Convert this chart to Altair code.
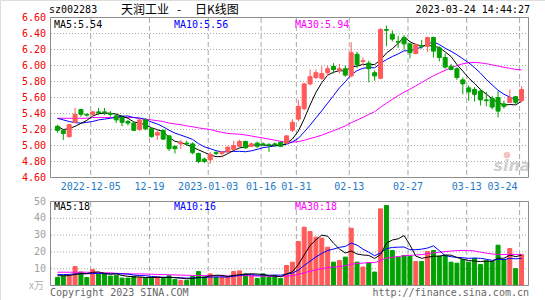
import altair as alt
import pandas as pd

# ---------------- data ----------------
idx = list(range(80))  # trading days 2022-11-25 .. 2023-03-24

opens = [5.24, 5.19, 5.11, 5.29, 5.45, 5.39, 5.39, 5.42, 5.42, 5.40,
         5.37, 5.35, 5.30, 5.28, 5.20, 5.32, 5.21, 5.13, 5.19, 5.12,
         4.99, 5.02, 5.03, 5.02, 4.90, 4.83, 4.82, 4.91, 4.90, 4.92,
         4.95, 4.99, 5.05, 4.99, 5.03, 5.02, 5.01, 5.02, 5.04, 5.03,
         5.19, 5.33, 5.46, 5.77, 5.85, 5.84, 5.91, 5.99, 5.94, 5.96,
         5.87, 6.14, 6.05, 6.03, 5.91, 5.84, 6.45, 6.39, 6.30, 6.35,
         6.27, 6.15, 6.25, 6.24, 6.35, 6.22, 6.10, 5.99, 5.96, 5.82,
         5.72, 5.70, 5.68, 5.57, 5.59, 5.60, 5.52, 5.54, 5.61, 5.56]
closes = [5.19, 5.15, 5.26, 5.39, 5.39, 5.38, 5.42, 5.41, 5.41, 5.39,
          5.32, 5.29, 5.28, 5.19, 5.32, 5.21, 5.11, 5.16, 5.08, 4.96,
          4.96, 5.04, 5.02, 4.91, 4.80, 4.80, 4.89, 4.90, 4.92, 4.98,
          5.00, 5.05, 4.97, 5.02, 4.99, 5.01, 5.00, 5.01, 4.99, 5.12,
          5.29, 5.49, 5.77, 5.86, 5.91, 5.90, 5.96, 5.95, 5.96, 5.88,
          6.16, 6.01, 6.06, 5.96, 5.87, 6.45, 6.44, 6.33, 6.29, 6.27,
          6.16, 6.26, 6.24, 6.35, 6.18, 6.10, 5.98, 5.95, 5.85, 5.77,
          5.67, 5.64, 5.57, 5.56, 5.48, 5.43, 5.49, 5.60, 5.54, 5.70]
highs = [5.26, 5.19, 5.27, 5.47, 5.46, 5.40, 5.43, 5.47, 5.47, 5.43,
         5.40, 5.36, 5.32, 5.29, 5.34, 5.34, 5.22, 5.20, 5.20, 5.13,
         5.00, 5.07, 5.06, 5.04, 4.91, 4.85, 4.92, 4.94, 4.93, 4.99,
         5.06, 5.07, 5.06, 5.04, 5.05, 5.04, 5.03, 5.04, 5.05, 5.13,
         5.33, 5.57, 5.78, 5.95, 5.95, 5.99, 6.00, 6.03, 6.02, 6.00,
         6.29, 6.17, 6.10, 6.06, 5.94, 6.47, 6.50, 6.44, 6.37, 6.38,
         6.28, 6.28, 6.32, 6.36, 6.36, 6.24, 6.15, 6.02, 5.98, 5.85,
         5.75, 5.73, 5.71, 5.67, 5.62, 5.68, 5.56, 5.70, 5.62, 5.74]
lows = [5.16, 5.07, 5.10, 5.28, 5.36, 5.36, 5.38, 5.38, 5.38, 5.36,
        5.28, 5.24, 5.25, 5.18, 5.18, 5.19, 5.10, 5.07, 5.07, 4.93,
        4.90, 4.96, 5.00, 4.89, 4.78, 4.78, 4.77, 4.88, 4.85, 4.90,
        4.94, 4.98, 4.96, 4.98, 4.97, 4.99, 4.92, 4.98, 4.98, 5.02,
        5.17, 5.30, 5.44, 5.75, 5.83, 5.82, 5.87, 5.90, 5.90, 5.86,
        5.85, 5.97, 6.00, 5.79, 5.81, 5.83, 6.24, 6.30, 6.22, 6.20,
        6.09, 6.14, 6.21, 6.17, 6.10, 6.05, 5.96, 5.94, 5.82, 5.64,
        5.56, 5.55, 5.50, 5.49, 5.45, 5.35, 5.46, 5.53, 5.52, 5.54]
vols = [4.8, 5.6, 5.6, 11.3, 8.0, 4.8, 9.5, 6.9, 6.9, 5.6,
        6.0, 4.4, 4.4, 5.4, 5.0, 4.4, 4.6, 5.0, 4.4, 5.8,
        3.6, 3.0, 3.0, 5.4, 8.3, 5.0, 6.9, 5.0, 5.0, 5.0,
        8.3, 8.7, 6.9, 6.0, 4.2, 6.9, 5.0, 6.0, 4.2, 11.9,
        13.9, 26.2, 34.7, 32.1, 28.8, 28.2, 22.8, 13.9, 14.9, 16.9,
        34.1, 13.9, 11.0, 13.5, 8.0, 45.6, 47.6, 20.8, 16.9, 17.9,
        17.5, 14.3, 14.3, 20.2, 20.8, 17.5, 17.9, 13.9, 13.3, 15.5,
        13.9, 16.1, 12.5, 14.7, 14.3, 24.0, 15.5, 22.0, 10.0, 18.5]

ma5 = [5.24, 5.20, 5.21, 5.24, 5.276, 5.314, 5.368, 5.398, 5.404, 5.404,
       5.392, 5.366, 5.340, 5.294, 5.280, 5.258, 5.222, 5.198, 5.174, 5.102,
       5.052, 5.038, 5.010, 4.978, 4.946, 4.914, 4.884, 4.860, 4.862, 4.898,
       4.938, 4.970, 4.984, 5.004, 5.006, 5.008, 4.998, 5.006, 5.000, 5.026,
       5.082, 5.180, 5.332, 5.506, 5.664, 5.786, 5.880, 5.916, 5.936, 5.930,
       5.982, 5.992, 6.014, 6.014, 6.012, 6.070, 6.156, 6.210, 6.276, 6.356,
       6.298, 6.262, 6.244, 6.256, 6.238, 6.226, 6.170, 6.112, 6.012, 5.930,
       5.844, 5.776, 5.700, 5.642, 5.584, 5.536, 5.506, 5.512, 5.508, 5.552]
ma10 = [5.34, 5.32, 5.30, 5.285, 5.28, 5.29, 5.30, 5.32, 5.33, 5.340,
        5.353, 5.367, 5.369, 5.349, 5.342, 5.325, 5.294, 5.269, 5.234, 5.191,
        5.155, 5.130, 5.104, 5.076, 5.024, 4.983, 4.961, 4.935, 4.920, 4.922,
        4.926, 4.927, 4.922, 4.933, 4.952, 4.973, 4.984, 4.995, 5.002, 5.016,
        5.045, 5.089, 5.169, 5.253, 5.345, 5.434, 5.530, 5.624, 5.721, 5.797,
        5.884, 5.936, 5.965, 5.975, 5.971, 6.026, 6.074, 6.112, 6.145, 6.184,
        6.184, 6.209, 6.227, 6.266, 6.297, 6.262, 6.216, 6.178, 6.134, 6.084,
        6.035, 5.973, 5.906, 5.827, 5.757, 5.690, 5.641, 5.606, 5.575, 5.568]
ma30 = [5.34, 5.34, 5.34, 5.34, 5.34, 5.34, 5.35, 5.35, 5.35, 5.35,
        5.35, 5.35, 5.35, 5.35, 5.34, 5.33, 5.32, 5.31, 5.30, 5.28,
        5.27, 5.26, 5.245, 5.235, 5.22, 5.21, 5.20, 5.18, 5.165, 5.151,
        5.145, 5.141, 5.132, 5.119, 5.106, 5.094, 5.080, 5.066, 5.052, 5.043,
        5.042, 5.049, 5.065, 5.087, 5.107, 5.130, 5.158, 5.185, 5.214, 5.245,
        5.285, 5.317, 5.352, 5.387, 5.423, 5.478, 5.529, 5.577, 5.623, 5.666,
        5.704, 5.745, 5.787, 5.831, 5.871, 5.907, 5.940, 5.971, 6.000, 6.022,
        6.034, 6.039, 6.033, 6.023, 6.008, 5.993, 5.977, 5.965, 5.951, 5.945]

vma5 = [5.8, 5.8, 5.9, 6.6, 7.06, 7.06, 7.84, 8.10, 7.22, 6.74,
        6.98, 5.96, 5.46, 5.16, 5.04, 4.72, 4.76, 4.88, 4.68, 4.84,
        4.68, 4.36, 3.96, 4.16, 4.66, 4.94, 5.72, 6.12, 6.04, 5.38,
        6.04, 6.40, 6.78, 6.98, 6.82, 6.54, 5.80, 5.62, 5.26, 6.80,
        8.20, 12.44, 18.18, 23.76, 27.14, 30.00, 29.32, 25.16, 21.72, 19.34,
        20.52, 18.74, 18.16, 17.88, 16.10, 18.40, 25.14, 27.10, 27.78, 29.76,
        24.14, 17.48, 16.18, 16.84, 17.42, 17.42, 18.14, 18.06, 16.68, 15.62,
        14.90, 14.54, 14.26, 14.54, 14.30, 16.32, 16.20, 18.10, 17.16, 18.00]
vma10 = [6.5, 6.5, 6.6, 6.8, 7.0, 7.0, 7.1, 7.2, 7.0, 6.90,
         7.02, 6.90, 6.78, 6.19, 5.89, 5.85, 5.36, 5.17, 4.92, 4.94,
         4.70, 4.56, 4.42, 4.42, 4.75, 4.81, 5.04, 5.04, 5.10, 5.02,
         5.49, 6.06, 6.45, 6.51, 6.10, 6.29, 6.10, 6.20, 6.12, 6.81,
         7.37, 9.12, 11.90, 14.51, 16.97, 19.10, 20.88, 21.67, 22.74, 23.24,
         25.26, 24.03, 21.66, 19.80, 17.72, 19.46, 21.94, 22.63, 22.83, 22.93,
         21.27, 21.31, 21.64, 22.31, 23.59, 20.78, 17.81, 17.12, 16.76, 16.52,
         16.16, 16.34, 16.16, 15.61, 14.96, 15.61, 15.37, 16.18, 15.85, 16.15]
vma30 = [7.9, 7.9, 7.9, 7.9, 7.9, 7.9, 7.8, 7.7, 7.6, 7.5,
         7.3, 7.1, 7.0, 6.9, 6.9, 6.8, 6.7, 6.6, 6.5, 6.4,
         6.3, 6.2, 6.1, 6.0, 6.0, 5.9, 5.9, 5.8, 5.7, 5.62,
         5.74, 5.84, 5.88, 5.71, 5.58, 5.65, 5.50, 5.47, 5.38, 5.59,
         5.85, 6.58, 7.59, 8.48, 9.27, 10.07, 10.67, 10.97, 11.32, 11.69,
         12.71, 13.07, 13.34, 13.61, 13.60, 14.95, 16.31, 16.83, 17.23, 17.66,
         17.97, 18.15, 18.40, 18.87, 19.43, 19.78, 20.21, 20.47, 20.78, 20.90,
         20.90, 20.56, 19.82, 19.24, 18.76, 18.62, 18.37, 18.64, 18.48, 18.53]

tick_idx = [6, 16, 26, 35, 41, 50, 60, 70, 79]
tick_labels = ["2022-12-05", "12-19", "2023-01-03", "01-16", "01-31",
               "02-13", "02-27", "03-13", "03-24"]
price_ticks = [4.6, 4.8, 5.0, 5.2, 5.4, 5.6, 5.8, 6.0, 6.2, 6.4, 6.6]
vol_ticks = [10, 20, 30, 40, 50]

# ---------------- styling ----------------
MONO = "DejaVu Sans Mono"
CJK = "Noto Sans CJK SC"
UP, DOWN = "#FF5A5A", "#00A000"
GRID = "#A8A8A8"
FRAME = "#8C8C8C"

X = alt.Scale(domain=[-5 / 12, 79 + 5 / 12], range=[50, 529], nice=False, zero=False)
PY = alt.Scale(domain=[4.6, 6.6], range=[177.5, 17.5], nice=False, zero=False)
VY = alt.Scale(domain=[0, 50], range=[285.5, 201.5], nice=False, zero=False)

kdf = pd.DataFrame(dict(i=idx, o=opens, h=highs, l=lows, c=closes, v=vols))
base = alt.Chart(kdf).transform_calculate(
    col=f"datum.c >= datum.o ? '{UP}' : '{DOWN}'")
xenc = alt.X("i:Q", scale=X, axis=None)

wicks = base.mark_rule(strokeWidth=1).encode(
    x=xenc, y=alt.Y("l:Q", scale=PY, axis=None), y2="h:Q",
    color=alt.Color("col:N", scale=None))
bodies = base.mark_bar(size=4, strokeWidth=1).encode(
    x=xenc, y=alt.Y("o:Q", scale=PY, axis=None), y2="c:Q",
    color=alt.Color("col:N", scale=None), stroke=alt.Stroke("col:N", scale=None))
volbars = base.mark_bar(size=4, strokeWidth=1).encode(
    x=xenc, y=alt.Y("v:Q", scale=VY, axis=None), y2=alt.Y2Datum(0),
    color=alt.Color("col:N", scale=None), stroke=alt.Stroke("col:N", scale=None))


def line(values, scale, color):
    d = pd.DataFrame({"i": idx, "val": values})
    return alt.Chart(d).mark_line(strokeWidth=1, color=color).encode(
        x=xenc, y=alt.Y("val:Q", scale=scale, axis=None), order="i:Q")


def label(text, x, y, color, size=10, align="left", font=MONO, **kw):
    d = pd.DataFrame({"t": [text]})
    return alt.Chart(d).mark_text(align=align, baseline="middle", font=font,
                                  fontSize=size, color=color, **kw).encode(
        x=alt.value(x), y=alt.value(y), text="t:N")


ddf = pd.DataFrame({"i": tick_idx, "label": tick_labels})
dbase = alt.Chart(ddf).transform_calculate(g="datum.i - 1/3")
gx = alt.X("g:Q", scale=X, axis=None)

vgrid_p = dbase.mark_rule(color=GRID, strokeDash=[5, 3], strokeWidth=1).encode(
    x=gx, y=alt.value(18), y2=alt.value(177))
vgrid_v = dbase.mark_rule(color=GRID, strokeDash=[5, 3], strokeWidth=1).encode(
    x=gx, y=alt.value(202), y2=alt.value(285))
hgrid_p = alt.Chart(pd.DataFrame({"p": price_ticks[1:-1]})).mark_rule(
    color=GRID, strokeDash=[1, 2], strokeWidth=1).encode(
    y=alt.Y("p:Q", scale=PY, axis=None), x=alt.value(51), x2=alt.value(528))
hgrid_v = alt.Chart(pd.DataFrame({"v": vol_ticks[:-1]})).mark_rule(
    color=GRID, strokeDash=[1, 2], strokeWidth=1).encode(
    y=alt.Y("v:Q", scale=VY, axis=None), x=alt.value(51), x2=alt.value(528))

frame_p = alt.Chart(pd.DataFrame({"a": [0]})).mark_rect(
    fill="transparent", stroke=FRAME, strokeWidth=1).encode(
    x=alt.value(50.5), x2=alt.value(528.5), y=alt.value(17.5), y2=alt.value(177.5))
frame_v = alt.Chart(pd.DataFrame({"a": [0]})).mark_rect(
    fill="transparent", stroke=FRAME, strokeWidth=1).encode(
    x=alt.value(50.5), x2=alt.value(528.5), y=alt.value(201.5), y2=alt.value(285.5))

ptdf = pd.DataFrame({"p": price_ticks, "t": [f"{p:.2f}" for p in price_ticks]})
plabels = alt.Chart(ptdf).mark_text(align="right", baseline="middle", font=MONO,
                                    fontSize=10, color="#F00000").encode(
    x=alt.value(46), y=alt.Y("p:Q", scale=PY, axis=None), text="t:N")
vtdf = pd.DataFrame({"v": vol_ticks, "t": [str(v) for v in vol_ticks]})
vlabels = alt.Chart(vtdf).mark_text(align="right", baseline="middle", font=MONO,
                                    fontSize=10, color="#A0A0A0").encode(
    x=alt.value(46), y=alt.Y("v:Q", scale=VY, axis=None), text="t:N")

DATECOL = "#1E7AC8"
dlabels = dbase.transform_filter(f"datum.i < {tick_idx[-1]}").mark_text(
    align="center", baseline="middle", font=MONO, fontSize=10, color=DATECOL).encode(
    x=gx, y=alt.value(187), text="label:N")
dlabel_last = dbase.transform_filter(f"datum.i == {tick_idx[-1]}").mark_text(
    align="right", baseline="middle", font=MONO, fontSize=10, color=DATECOL, dx=-2).encode(
    x=gx, y=alt.value(187), text="label:N")

texts = [
    label("sz002283", 49, 10, "#000000"),
    label("天润工业", 121, 10, "#000000", size=12, font=CJK),
    label("-", 179, 10, "#000000", size=12, align="center", font=CJK),
    label("日K线图", 195, 10, "#000000", size=12, font=CJK),
    label("2023-03-24 14:44:27", 530, 10, "#000000", align="right"),
    label("MA5:5.54", 54, 25, "#000000"),
    label("MA10:5.56", 174, 25, "#0000FF"),
    label("MA30:5.94", 295, 25, "#FF00FF"),
    label("MA5:18", 54, 207, "#000000"),
    label("MA10:16", 174, 207, "#0000FF"),
    label("MA30:18", 295, 207, "#FF00FF"),
    label("x万", 44, 286, "#B0B0B0", font=CJK, size=10, align="right"),
    label("Copyright 2023 SINA.COM", 50, 293, "#666666"),
    label("http://finance.sina.com.cn", 529, 293, "#666666", align="right"),
    label("sina", 512, 166, "#CFCFCF", size=16, align="center",
          font="DejaVu Sans", fontStyle="italic", fontWeight="bold"),
]
eye = alt.Chart(pd.DataFrame({"a": [0]})).mark_point(
    filled=True, color="#F3B3B3", size=45, opacity=0.8).encode(
    x=alt.value(507), y=alt.value(155))

chart = alt.layer(
    hgrid_p, vgrid_p, hgrid_v, vgrid_v, eye, *texts,
    plabels, vlabels, dlabels, dlabel_last,
    volbars, line(vma30, VY, "#FF00FF"), line(vma10, VY, "#0000FF"), line(vma5, VY, "#000000"),
    line(ma30, PY, "#FF00FF"), line(ma10, PY, "#0000FF"), line(ma5, PY, "#000000"),
    wicks, bodies,
    frame_p, frame_v,
).resolve_scale(y="independent").properties(
    width=545, height=300, padding=0,
    autosize=alt.AutoSizeParams(type="none"),
).configure_view(stroke=None).configure(background="#FFFFFF")

chart.save("out.html", embed_options={"renderer": "svg", "actions": False})
